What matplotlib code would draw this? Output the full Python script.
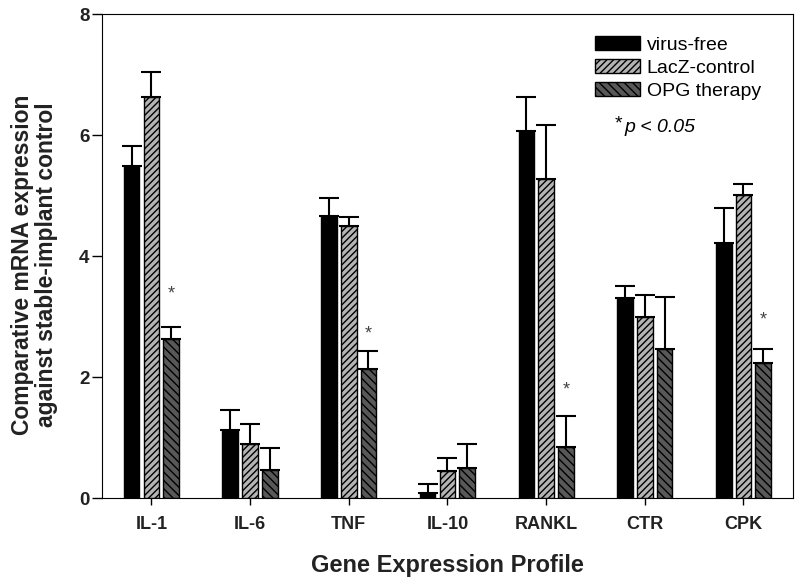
import matplotlib.pyplot as plt
import numpy as np

plt.rcParams['font.family'] = ['Liberation Sans', 'DejaVu Sans']

genes = ["IL-1", "IL-6", "TNF", "IL-10", "RANKL", "CTR", "CPK"]
series = ["virus-free", "LacZ-control", "OPG therapy"]

virus_free = [5.49, 1.12, 4.67, 0.09, 6.07, 3.30, 4.22]
virus_free_err = [0.33, 0.33, 0.29, 0.15, 0.56, 0.20, 0.57]
lacz = [6.63, 0.89, 4.50, 0.45, 5.27, 3.00, 5.01]
lacz_err = [0.42, 0.34, 0.14, 0.22, 0.89, 0.35, 0.18]
opg = [2.63, 0.47, 2.14, 0.50, 0.85, 2.46, 2.23]
opg_err = [0.20, 0.36, 0.29, 0.39, 0.51, 0.86, 0.24]

# significance markers on OPG therapy bars
star_genes = ["IL-1", "TNF", "RANKL", "CPK"]
star_y = [3.37, 2.71, 1.78, 2.95]

fig = plt.figure(figsize=(8, 5.84), dpi=100)
ax = fig.add_axes([0.1275, 0.147, 0.8635, 0.829])

x = np.arange(len(genes))
width = 0.158
offset = 0.2

styles = [
    dict(color="black", hatch=None),
    dict(color="#b4b4b4", hatch="/////"),
    dict(color="#585858", hatch="\\\\\\\\"),
]
values = [virus_free, lacz, opg]
errors = [virus_free_err, lacz_err, opg_err]

plt.rcParams['hatch.linewidth'] = 1.0
for i, (name, vals, errs, st) in enumerate(zip(series, values, errors, styles)):
    ax.bar(x + (i - 1) * offset, vals, width, color=st["color"], hatch=st["hatch"],
           edgecolor="black", linewidth=1.0, label=name,
           yerr=[np.zeros(len(vals)), errs],
           error_kw=dict(ecolor="black", elinewidth=1.5, capsize=7, capthick=1.5))

for g, sy in zip(star_genes, star_y):
    ax.text(genes.index(g) + offset, sy, "*", ha="center", va="center",
            fontsize=13, color="#444444")

ax.set_xlim(-0.5, 6.5)
ax.set_ylim(0, 8)
ax.set_yticks([0, 2, 4, 6, 8])
ax.set_xticks(x)
ax.set_xticklabels(genes, fontweight="bold", fontsize=13, color="#222222")
for lbl in ax.get_yticklabels():
    lbl.set_fontweight("bold")
    lbl.set_fontsize(13.5)
    lbl.set_color("#222222")
ax.tick_params(axis="y", direction="out", length=7, width=1, pad=2)
ax.tick_params(axis="x", direction="out", length=5, width=1, pad=8)

ax.set_ylabel("Comparative mRNA expression\nagainst stable-implant control",
              fontweight="bold", fontsize=16.5, color="#222222",
              linespacing=1.05)
ax.yaxis.set_label_coords(-0.064, 0.483)
ax.set_xlabel("Gene Expression Profile", fontweight="bold", fontsize=17,
              color="#222222", labelpad=15)

ax.legend(loc="upper left", bbox_to_anchor=(595 / 800, 1 - 36 / 584),
          bbox_transform=fig.transFigure, frameon=False, borderpad=0,
          borderaxespad=0, fontsize=14, handlelength=2.3, handleheight=0.7,
          labelspacing=0.28, handletextpad=0.35)
fig.text(622 / 800, 1 - 124 / 584, "*", fontsize=14, ha="right", va="center")
fig.text(624 / 800, 1 - 128 / 584, "p < 0.05", fontsize=14,
         style="italic", ha="left", va="center")

fig.savefig("out.png", dpi=100)
